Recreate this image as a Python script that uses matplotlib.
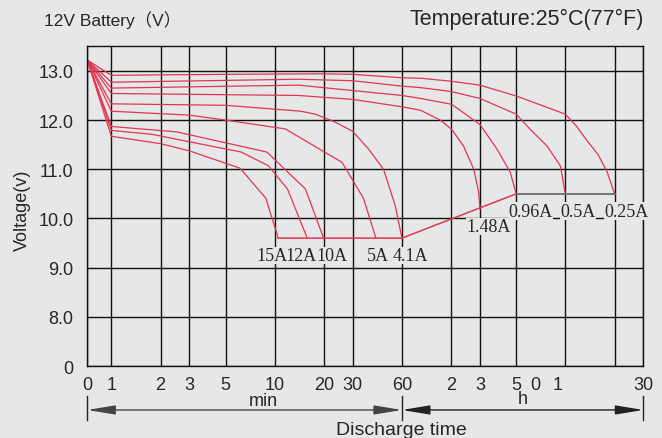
import numpy as np
import matplotlib
matplotlib.use("Agg")
import matplotlib.pyplot as plt

# discharge curves: time in minutes, voltage in volts
labels = ["0.25A", "0.5A", "0.96A", "1.48A", "4.1A", "5A", "10A", "12A", "15A"]

t_025 = [0, 1, 5, 20, 30, 60, 78, 120, 180, 300, 600, 700, 815, 950, 1080, 1200]
v_025 = [13.22, 12.91, 12.93, 12.94, 12.93, 12.86, 12.85, 12.79, 12.71, 12.49, 12.12, 11.88, 11.58, 11.30, 10.95, 10.50]

t_05 = [0, 1, 14, 30, 60, 78, 120, 180, 300, 366, 464, 559, 600]
v_05 = [13.22, 12.77, 12.83, 12.80, 12.69, 12.66, 12.58, 12.44, 12.12, 11.81, 11.47, 11.07, 10.50]

t_096 = [0, 1, 14, 60, 78, 121, 180, 229, 276, 300]
v_096 = [13.22, 12.65, 12.71, 12.50, 12.44, 12.32, 11.91, 11.41, 10.94, 10.50]

t_148 = [0, 1, 14, 30, 60, 78, 103, 121, 143, 165, 177, 180]
v_148 = [13.22, 12.54, 12.50, 12.42, 12.27, 12.20, 12.00, 11.81, 11.47, 11.00, 10.53, 10.19]

t_41 = [0, 1, 5, 14.4, 17.7, 23.4, 30, 37.5, 46.3, 54.6, 60]
v_41 = [13.22, 12.33, 12.30, 12.18, 12.12, 11.96, 11.77, 11.41, 11.00, 10.26, 9.60]

t_5 = [0, 1, 3, 5, 11.6, 25.8, 34.9, 41.6]
v_5 = [13.22, 12.18, 12.10, 12.00, 11.82, 11.14, 10.41, 9.60]

t_10 = [0, 1, 2.51, 8.95, 15.4, 19.9]
v_10 = [13.22, 11.87, 11.76, 11.35, 10.60, 9.60]

t_12 = [0, 1, 1.77, 6.23, 9.15, 11.96, 15.8]
v_12 = [13.22, 11.79, 11.71, 11.35, 11.07, 10.60, 9.60]

t_15 = [0, 1, 2, 3.03, 6.14, 8.82, 10.5]
v_15 = [13.22, 11.67, 11.52, 11.37, 11.02, 10.41, 9.60]

times = [t_025, t_05, t_096, t_148, t_41, t_5, t_10, t_12, t_15]
volts = [v_025, v_05, v_096, v_148, v_41, v_5, v_10, v_12, v_15]

tick_pos = [0, 1, 2, 3, 5, 10, 20, 30, 60, 120, 180, 300, 600, 1200, 1800]
tick_txt = ["0", "1", "2", "3", "5", "10", "20", "30", "60", "2", "3", "5", "", "", "30"]
odd_pos = [393, 536]          # the stray "0" and "1" under the hour part
odd_txt = ["0", "1"]
y_pos = [7, 8, 9, 10, 11, 12, 13]
y_txt = ["0", "8.0", "9.0", "10.0", "11.0", "12.0", "13.0"]

# label offsets from curve end, in pixels
lab_dx = [12, 13, 14, 9, 8, 1.5, 8, -6, -6]
lab_dy = -22

bg = "#e6e7e9"
red = "#e2364f"
ink = "#262626"
sans = ["Liberation Sans", "Noto Sans CJK SC", "DejaVu Sans"]
serif = ["Liberation Serif", "DejaVu Serif"]

ZERO = 0.147


def fwd(t):
    t = np.asarray(t, dtype=float)
    return np.where(t < 1, (t - 1) * ZERO, np.log10(np.maximum(t, 1)))


def inv(y):
    y = np.asarray(y, dtype=float)
    return np.where(y < 0, 1 + y / ZERO, 10 ** np.minimum(y, 10))


fig = plt.figure(figsize=(6.62, 4.39), dpi=100, facecolor=bg)
ax = fig.add_axes([0.1319, 0.164, 0.8399, 0.7283], facecolor=bg)
ax.set_xscale("function", functions=(fwd, inv))
ax.set_xlim(0, 1800)
ax.set_ylim(7, 13.5)

ax.set_xticks(tick_pos, tick_txt)
ax.set_xticks(odd_pos, odd_txt, minor=True)
ax.set_yticks(y_pos, y_txt)
ax.tick_params(which="both", length=0, labelsize=13, colors=ink)
ax.tick_params(axis="x", which="both", pad=7)
ax.tick_params(axis="y", pad=10)
for lab in ax.get_xticklabels(which="both") + ax.get_yticklabels():
    lab.set_family(sans)
ax.grid(True, which="major", color="#111111", lw=1.0)
for s in ax.spines.values():
    s.set_color("#111111")
    s.set_linewidth(1.0)

for tt, vv in zip(times, volts):
    ax.plot(tt, vv, color=red, lw=0.9)

# end-of-discharge lines
ax.plot([t_15[-1], t_41[-1], t_096[-1]], [v_15[-1], v_41[-1], v_096[-1]], color=red, lw=1.1)
ax.plot([t_096[-1], t_025[-1]], [v_096[-1], v_025[-1]], color="#6b6b6b", lw=1.3)

for name, tt, vv, dx in zip(labels, times, volts, lab_dx):
    ax.annotate(name, (tt[-1], vv[-1]), xytext=(dx, lab_dy), textcoords="offset pixels",
                ha="center", va="baseline", fontsize=13, family=serif, color=ink,
                bbox=dict(facecolor=bg, edgecolor="none", pad=0.3), annotation_clip=False)

ax.set_ylabel("Voltage(v)", fontsize=13, family=sans, color=ink)
ax.yaxis.set_label_coords(-0.101, 0.49)

# min / h arrows under the axis
tr = ax.get_xaxis_transform()
for x in [0, 60, 1800]:
    ax.plot([x, x], [-0.094, -0.169], transform=tr, color="#222222", lw=1.0, clip_on=False)
for a, b, c in [(0, 60, "#444444"), (60, 1800, "#222222")]:
    ax.annotate("", xy=(b, -0.1375), xytext=(a, -0.1375), xycoords=tr, textcoords=tr,
                arrowprops=dict(arrowstyle="<|-|>,head_length=17,head_width=2.8",
                                mutation_scale=1, color=c, lw=1.0, shrinkA=0, shrinkB=0))
ax.text(8.5, -0.108, "min", transform=tr, ha="center", va="center", fontsize=13, family=sans, color=ink)
ax.text(330, -0.103, "h", transform=tr, ha="center", va="center", fontsize=13, family=sans, color=ink)

fig.text(401 / 662, 1 - 431 / 439, "Discharge time", ha="center", va="center",
         fontsize=14, family=sans, color=ink)
fig.text(44 / 662, 1 - 20 / 439, "12V Battery（V）", ha="left", va="center",
         fontsize=12.5, family=sans, color=ink)
fig.text(644 / 662, 1 - 19 / 439, "Temperature:25°C(77°F)", ha="right", va="center",
         fontsize=15.5, family=sans, color=ink)

fig.savefig("out.png", dpi=100, facecolor=bg)
